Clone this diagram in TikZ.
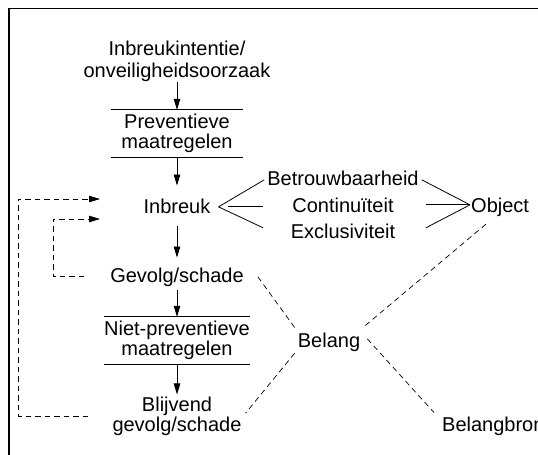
\documentclass[tikz,border=0pt]{standalone}
\usepackage{fontspec}
\setmainfont{Liberation Sans}
\usetikzlibrary{arrows.meta}
\begin{document}
\begin{tikzpicture}[x=1pt,y=-1pt,
  every node/.style={font=\fontsize{20}{22}\selectfont},
  lbl/.style={inner sep=0pt, text height=14.3pt, text depth=4pt},
  lbls/.style={inner sep=0pt, align=center},
  measure/.style={inner sep=0pt, align=center, minimum width=131pt,
    minimum height=47pt, font=\fontsize{20}{20}\selectfont},
  rule/.style={line width=0.8pt},
  arr/.style={line width=0.8pt, -{Triangle[length=11pt,width=6.5pt]}},
  fb/.style={arr, dash pattern=on 5.5pt off 4pt},
  link/.style={line width=0.8pt},
  dlink/.style={line width=0.7pt, dash pattern=on 5.5pt off 4pt}]
\useasboundingbox (0,0) rectangle (538,455);
\clip (0,0) rectangle (538,455);
% outer frame
\draw[line width=1.5pt] (9,470) |- (550,8.5);

% main chain
\node[lbls] (t1) at (177,61) {Inbreukintentie/\\onveiligheidsoorzaak};
\node[measure] (prev) at (177,133.5) {Preventieve\\maatregelen};
\node[lbl, anchor=base] (inb) at (177,213) {Inbreuk};
\node[lbl, anchor=base] (gev) at (177,282) {Gevolg/schade};
\node[measure] (np) at (177,340.5) {Niet-preventieve\\maatregelen};
\node[lbls, font=\fontsize{20}{20}\selectfont] (bl) at (177,416) {Blijvend\\gevolg/schade};

\draw[rule] (prev.north west) -- (prev.north east);
\draw[rule] (prev.south west) -- (prev.south east);
\draw[rule] (np.north west) -- (np.north east);
\draw[rule] (np.south west) -- (np.south east);

\draw[arr] (t1.south) -- (prev.north);
\draw[arr] (prev.south) -- ([yshift=13pt]inb.north);
\draw[arr] ([yshift=-9pt]inb.south) -- ([yshift=10pt]gev.north);
\draw[arr] ([yshift=-4pt]gev.south) -- (np.north);
\draw[arr] (np.south) -- ([yshift=2pt]bl.north);

% aspects
\node[lbl, anchor=base] (bet) at (343,185) {Betrouwbaarheid};
\node[lbl, anchor=base] (cont) at (343,212) {Continuïteit};
\node[lbl, anchor=base] (exc) at (343,238) {Exclusiviteit};
\node[lbl, anchor=base west] (obj) at (471,212) {Object};

\coordinate (apexL) at ([xshift=8pt,yshift=1pt]inb.east);
\draw[link] (apexL) -- ([xshift=-3pt]bet.west);
\draw[link] ([xshift=9pt]apexL) -- ([xshift=-4pt]apexL -| bet.west);
\draw[link] (apexL) -- ([xshift=-4pt,yshift=5pt]bet.west |- exc.west);

\coordinate (apexR) at ([xshift=-1pt,yshift=2pt]obj.west);
\draw[link] (apexR) -- ([xshift=3pt]bet.east);
\draw[link] (apexR) -- ([xshift=7pt]apexR -| bet.east);
\draw[link] (apexR) -- ([xshift=7pt,yshift=5pt]bet.east |- exc.east);

% interest
\node[lbl, anchor=base] (bel) at (329,347) {Belang};
\node[lbl, anchor=base west] (belb) at (442,431) {Belangbron};

\draw[dlink] ([xshift=14pt]gev.east) -- ([xshift=-3pt,yshift=5pt]bel.north west);
\draw[dlink] ([xshift=-3pt,yshift=-2pt]bel.south west) -- ([xshift=4pt,yshift=3pt]bl.east);
\draw[dlink] ([xshift=5pt,yshift=7pt]bel.north east) -- ([xshift=-13pt,yshift=-7pt]obj.south);
\draw[dlink] ([xshift=7pt,yshift=3pt]bel.east) -- ([xshift=-8pt,yshift=4pt]belb.north west);

% feedback loops
\coordinate (outerIn) at (100,199);
\coordinate (innerIn) at (100,219);
\draw[fb] ([xshift=-24pt]bl.west) -| ([xshift=-82pt]outerIn) -- (outerIn);
\draw[fb] ([xshift=-26pt]gev.west) -| ([xshift=-47pt]innerIn) -- (innerIn);
\end{tikzpicture}
\end{document}
